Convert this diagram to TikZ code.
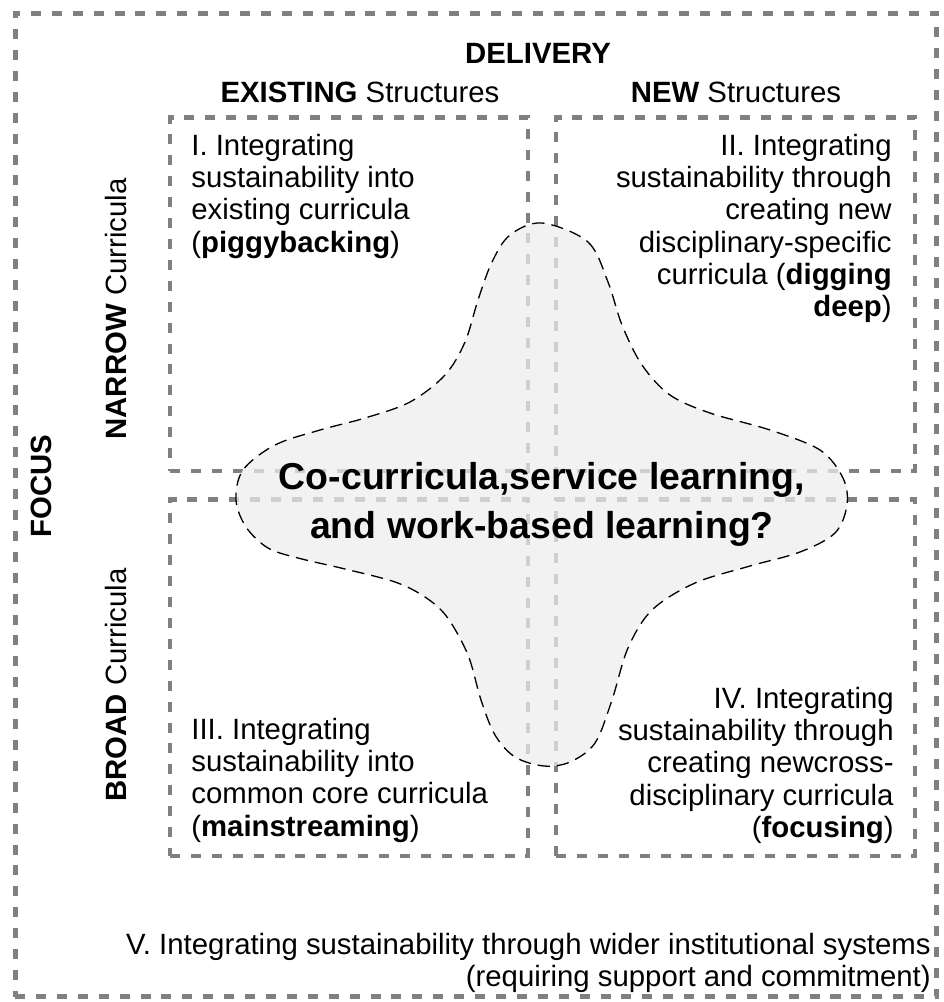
\documentclass[tikz,border=0pt]{standalone}
\usepackage{fontspec}
\setmainfont{Liberation Sans}
\newcommand{\quadfont}{\fontsize{16.7}{18.3}\selectfont}
\newcommand{\blobfont}{\fontsize{21.3}{28}\selectfont\bfseries}

\begin{document}
\begin{tikzpicture}[x=0.02cm, y=-0.02cm]
    \tikzset{
        dashframe/.style={
            draw=black!50, line width=2.8pt,
            dash pattern=on 5.7pt off 6.2pt,
            inner sep=0pt, outer sep=0pt
        },
        blob/.style={
            draw=black, line width=0.75pt,
            dash pattern=on 7pt off 4pt,
            fill=black!7, fill opacity=0.73
        },
        quadtext/.style={font=\quadfont, inner sep=0pt},
    }
    \useasboundingbox (0,0) rectangle (944,1002);

    % ==== Outer frame (wider institutional systems) ====
    \node[dashframe, minimum width=18.44cm, minimum height=19.68cm] (outer) at (476,505) {};

    % ==== Four quadrants ====
    \node[dashframe, minimum width=7.16cm, minimum height=7.08cm] (q1) at (349,294) {};
    \node[dashframe, minimum width=7.18cm, minimum height=7.08cm] (q2) at (735.5,294) {};
    \node[dashframe, minimum width=7.16cm, minimum height=7.14cm] (q3) at (349,677.5) {};
    \node[dashframe, minimum width=7.18cm, minimum height=7.14cm] (q4) at (735.5,677.5) {};

    % ==== Co-curricula blob ====
    \draw[blob] plot[smooth cycle, tension=0.55] coordinates {
        (542,223) (588,242) (608,282) (622,325) (642,365) (670,395) (710,413)
        (770,430) (820,450) (843,478) (847,505) (835,533) (800,552) (750,566)
        (695,583) (652,610) (628,648) (612,700) (595,743) (570,762) (544,766)
        (515,757) (495,735) (481,700) (468,655) (447,617) (425,597) (395,582)
        (345,569) (298,558) (268,548) (246,527) (236,500) (243,470) (275,445)
        (320,430) (365,418) (410,402) (445,375) (465,342) (478,300) (492,262)
        (510,235)
    };

    % ==== Axis labels ====
    \node[quadtext, anchor=base] (delivery) at (538,63) {\textbf{DELIVERY}};
    \node[quadtext, anchor=base] (existing) at (360,102) {\textbf{EXISTING} Structures};
    \node[quadtext, anchor=base] (new) at (736,102) {\textbf{NEW} Structures};
    \node[quadtext, rotate=90] (focus) at (41,486) {\textbf{FOCUS}};
    \node[quadtext, rotate=90] (narrow) at (116,309) {\textbf{NARROW} Curricula};
    \node[quadtext, rotate=90] (broad) at (116,685) {\textbf{BROAD} Curricula};

    % ==== Quadrant texts ====
    \node[quadtext, anchor=north west, align=left] (t1) at (191,134)
        {I. Integrating\\sustainability into\\existing curricula\\(\textbf{piggybacking})};
    \node[quadtext, anchor=north east, align=right] (t2) at (892,134)
        {II. Integrating\\sustainability through\\creating new\\disciplinary-specific\\curricula (\textbf{digging}\\\textbf{deep})};
    \node[quadtext, anchor=north west, align=left] (t3) at (191,718)
        {III. Integrating\\sustainability into\\common core curricula\\(\textbf{mainstreaming})};
    \node[quadtext, anchor=north east, align=right] (t4) at (894,687)
        {IV. Integrating\\sustainability through\\creating newcross-\\disciplinary curricula\\(\textbf{focusing})};
    \node[quadtext, anchor=north east, align=right] (t5) at (931,933)
        {V. Integrating sustainability through wider institutional systems\\(requiring support and commitment)};

    % ==== Centre question ====
    \node[font=\blobfont, align=center, anchor=north, inner sep=0pt] (cocurr) at (542,462)
        {Co-curricula,service learning,\\and work-based learning?};
\end{tikzpicture}
\end{document}
